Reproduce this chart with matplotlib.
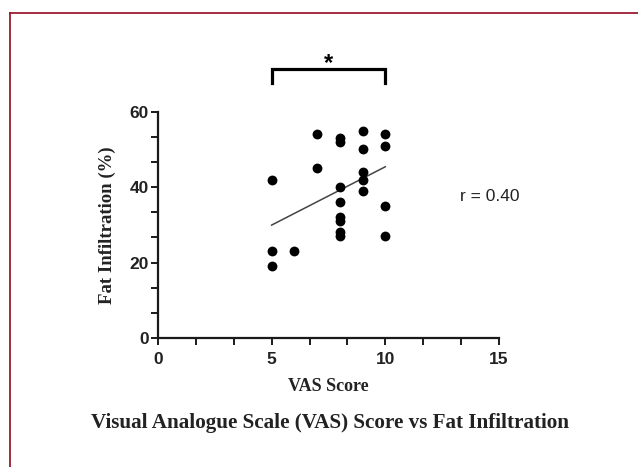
import numpy as np
import matplotlib
matplotlib.use("Agg")
from matplotlib import pyplot as plt
from matplotlib.lines import Line2D
from matplotlib.ticker import MultipleLocator

# VAS score vs fat infiltration (%)
vas_score = [5, 5, 5, 6, 7, 7,
             8, 8, 8, 8, 8, 8, 8, 8,
             9, 9, 9, 9, 9,
             10, 10, 10, 10]
fat_infiltration = [42, 23, 19, 23, 54, 45,
                    53, 52, 40, 36, 32, 31, 28, 27,
                    55, 50, 44, 42, 39,
                    54, 51, 35, 27]
r_label = "r = 0.40"
x_ticks = [0, 5, 10, 15]
y_ticks = [0, 20, 40, 60]
bracket_x = [5, 10]

x = np.array(vas_score, dtype=float)
y = np.array(fat_infiltration, dtype=float)

fig = plt.figure(figsize=(6.38, 4.67), dpi=100)
ax = fig.add_axes([0.2476, 0.2762, 0.5345, 0.4846])

ax.scatter(x, y, s=50, color="black", zorder=3, linewidths=0)

# linear fit over the observed range
slope, intercept = np.polyfit(x, y, 1)
xf = np.array([x.min(), x.max()])
ax.plot(xf, slope * xf + intercept, color="#444444", linewidth=1.1)

ax.set_xlim(0, 15)
ax.set_ylim(0, 60)
ax.set_xticks(x_ticks)
ax.set_yticks(y_ticks)
ax.xaxis.set_minor_locator(MultipleLocator(5 / 3))
ax.yaxis.set_minor_locator(MultipleLocator(20 / 3))

for side in ["top", "right"]:
    ax.spines[side].set_visible(False)
for side in ["left", "bottom"]:
    ax.spines[side].set_linewidth(1.6)
    ax.spines[side].set_color("#1a1a1a")

ax.tick_params(which="both", direction="out", width=1.4, length=5, color="#1a1a1a")
for lab in ax.get_xticklabels() + ax.get_yticklabels():
    lab.set_family("Liberation Sans")
    lab.set_fontweight("bold")
    lab.set_fontsize(12.5)
    lab.set_color("#222222")
ax.tick_params(axis="x", pad=5)
ax.tick_params(axis="y", pad=1.5)

ax.set_xlabel("VAS Score", family="Liberation Serif", fontweight="bold",
              fontsize=13, color="#222222", labelpad=8)
ax.set_ylabel("Fat Infiltration (%)", family="Liberation Serif", fontweight="bold",
              fontsize=13.5, color="#222222", labelpad=10)

ax.text(14.6, 37.6, r_label, family="Liberation Sans", fontsize=12.5,
        ha="center", va="center", color="#222222")

# significance bracket above the plot
ax.plot([bracket_x[0], bracket_x[0], bracket_x[1], bracket_x[1]],
        [67.5, 71.4, 71.4, 67.5], color="black", linewidth=2.3,
        clip_on=False, solid_joinstyle="miter")
ax.text(np.mean(bracket_x), 71.0, "*", ha="center", va="baseline",
        fontsize=17, fontweight="bold", family="Liberation Sans")

fig.text(0.517, 0.094, "Visual Analogue Scale (VAS) Score vs Fat Infiltration",
         family="Liberation Serif", fontweight="bold", fontsize=15.2,
         ha="center", va="center", color="#222222")

# journal frame (left and top only)
frame_col = "#9b1b30"
fig.add_artist(Line2D([0.0157, 0.0157], [0.0, 0.972], color=frame_col,
                      linewidth=1.3, transform=fig.transFigure))
fig.add_artist(Line2D([0.0157, 1.0], [0.972, 0.972], color=frame_col,
                      linewidth=1.3, transform=fig.transFigure))

fig.savefig("out.png", dpi=100)
